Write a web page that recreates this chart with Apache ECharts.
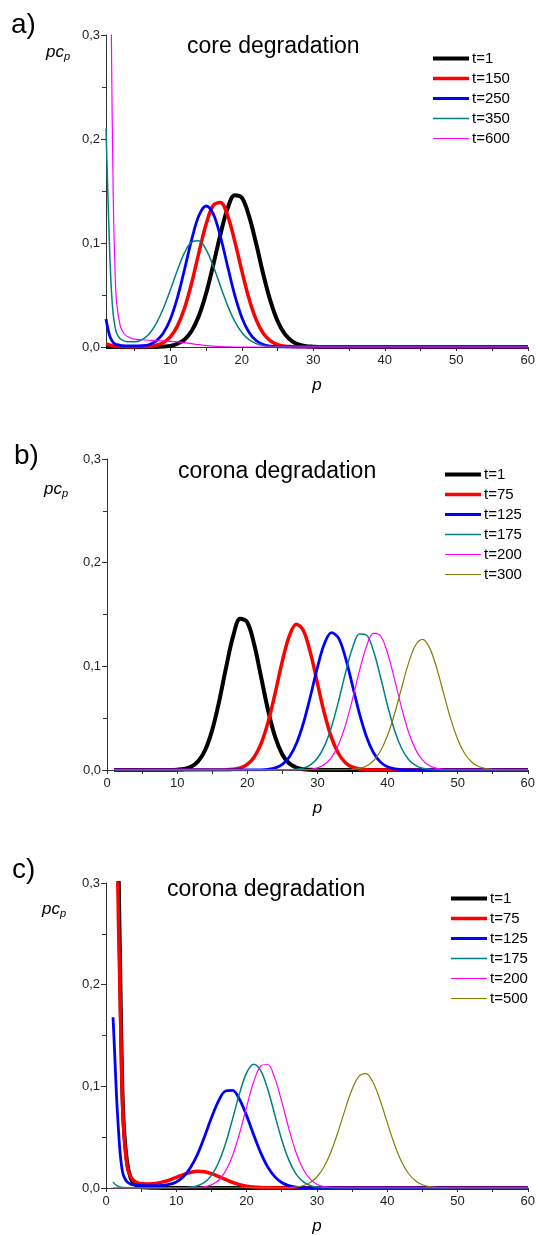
<!DOCTYPE html>
<html>
<head>
<meta charset="utf-8">
<script src="https://cdn.jsdelivr.net/npm/echarts@6/dist/echarts.min.js"></script>
<style>
  html, body { margin: 0; padding: 0; background: #fff; }
  #chart { width: 538px; height: 1236px; }
</style>
</head>
<body>
<div id="chart"></div>
<script>
// fine p grid used for the steep start of some curves
const pHead = [1, 1.25, 1.5, 1.75, 2, 2.25, 2.5, 3, 3.5, 4, 4.5];

// a) core degradation
const aNames = ['t=1', 't=150', 't=250', 't=350', 't=600'];
const aT1Body = [0.0001, 0.0004, 0.0011, 0.0031, 0.0073, 0.0157, 0.030, 0.0514, 0.0788, 0.108, 0.133, 0.146, 0.1436, 0.126, 0.0995, 0.070, 0.0443, 0.025, 0.0126, 0.0057, 0.0023, 0.0008, 0.0003, 0]; // p=8..
const aT150Head = [0.003, 0.0025, 0.002, 0.0015, 0.001, 0.0008, 0.0006, 0.0003, 0.0002, 0.0001, 0.0001];
const aT150Body = [0, 0.0002, 0.0005, 0.0016, 0.0041, 0.0097, 0.0203, 0.0377, 0.062, 0.0908, 0.118, 0.136, 0.139, 0.1266, 0.102, 0.0733, 0.0466, 0.0264, 0.0132, 0.0059, 0.0023, 0.0008, 0.0003, 0]; // p=5..
const aT250Head = [0.027, 0.018, 0.011, 0.007, 0.0045, 0.003, 0.0022, 0.0015, 0.0012, 0.001, 0.001];
const aT250Body = [0.001, 0.0012, 0.0022, 0.0057, 0.0132, 0.0267, 0.0477, 0.075, 0.1037, 0.1264, 0.1356, 0.128, 0.1064, 0.0779, 0.0501, 0.0284, 0.0142, 0.0062, 0.0024, 0.0008, 0.0002, 0]; // p=5..
const aT350Head = [0.21, 0.15, 0.095, 0.055, 0.032, 0.02, 0.013, 0.008, 0.006, 0.005, 0.005];
const aT350Body = [0.005, 0.007, 0.0123, 0.0223, 0.0367, 0.0547, 0.074, 0.0909, 0.101, 0.1022, 0.0936, 0.0778, 0.0586, 0.040, 0.0248, 0.0139, 0.0071, 0.0033, 0.0014, 0.0005, 0.0002, 0]; // p=5..
const aT600Head = [1.5, 0.9, 0.52, 0.3, 0.15, 0.075, 0.042, 0.02, 0.013, 0.01, 0.0085];
const aT600Body = [0.0075, 0.007, 0.0065, 0.006, 0.0058, 0.0055, 0.005, 0.0042, 0.0032, 0.0022, 0.0014, 0.0008, 0.0004, 0.0002, 0]; // p=5..

// b) corona degradation
const bNames = ['t=1', 't=75', 't=125', 't=175', 't=200', 't=300'];
const bT1 = [0.0001, 0.0003, 0.001, 0.0032, 0.0084, 0.0193, 0.0385, 0.0664, 0.0995, 0.1294, 0.1458, 0.1425, 0.1208, 0.0888, 0.0567, 0.0314, 0.015, 0.0062, 0.0023, 0.0007, 0.0002, 0]; // p=9..
const bT75 = [0.0002, 0.0007, 0.002, 0.0054, 0.0126, 0.026, 0.0469, 0.0748, 0.1049, 0.1294, 0.1406, 0.1345, 0.1132, 0.0839, 0.0547, 0.0314, 0.0159, 0.0071, 0.0028, 0.001, 0.0003, 0]; // p=17..
const bT125 = [0.0002, 0.0007, 0.0021, 0.0055, 0.0126, 0.0253, 0.0451, 0.0709, 0.0988, 0.1217, 0.1325, 0.1275, 0.1085, 0.0817, 0.0543, 0.032, 0.0166, 0.0076, 0.0031, 0.0011, 0.0004, 0]; // p=22..
const bT175 = [0.0002, 0.0007, 0.0019, 0.005, 0.0114, 0.023, 0.0413, 0.066, 0.0935, 0.1177, 0.1313, 0.1302, 0.1147, 0.0897, 0.0623, 0.0384, 0.021, 0.0102, 0.0044, 0.0017, 0.0006, 0.0002, 0]; // p=26..
const bT200 = [0.0002, 0.0007, 0.0021, 0.0054, 0.012, 0.0243, 0.0431, 0.0682, 0.0957, 0.1192, 0.1318, 0.1295, 0.1129, 0.0875, 0.0602, 0.0367, 0.0199, 0.0096, 0.0041, 0.0016, 0.0005, 0.0002, 0]; // p=28..
const bT300 = [0.0002, 0.0005, 0.0015, 0.0039, 0.0089, 0.0183, 0.0332, 0.0541, 0.079, 0.1031, 0.1204, 0.126, 0.1178, 0.0986, 0.0739, 0.0495, 0.0297, 0.0159, 0.0077, 0.0033, 0.0013, 0.0005, 0.0002, 0]; // p=34..

// c) corona degradation
const cNames = ['t=1', 't=75', 't=125', 't=175', 't=200', 't=500'];
const cT1Head = [1.0, 0.7, 0.48, 0.33, 0.22, 0.12, 0.065, 0.025, 0.01, 0.004, 0.002];
const cT1Body = [0.001, 0.0005, 0.0002, 0]; // p=5..
const cT75Head = [0.9, 0.6, 0.4, 0.27, 0.19, 0.11, 0.06, 0.022, 0.011, 0.007, 0.005];
const cT75Body = [0.0041, 0.004, 0.0045, 0.0058, 0.0078, 0.0104, 0.0132, 0.0153, 0.0164, 0.016, 0.0142, 0.0114, 0.0084, 0.0055, 0.0033, 0.0018, 0.0009, 0.0004, 0.0002, 0.0001, 0]; // p=5..
const cT125Head = [0.168, 0.13, 0.09, 0.06, 0.035, 0.02, 0.012, 0.006, 0.004, 0.003, 0.0028];
const cT125Body = [0.0025, 0.0024, 0.0023, 0.0025, 0.0035, 0.006, 0.011, 0.02, 0.0329, 0.0502, 0.069, 0.0855, 0.0954, 0.096, 0.0871, 0.0712, 0.0524, 0.0348, 0.0208, 0.0112, 0.0054, 0.0024, 0.0009, 0.0003, 0.0001, 0]; // p=5..
const cT175Head = [0.006, 0.004, 0.0025, 0.0015, 0.001, 0.0006, 0.0004, 0.0002, 0.0001, 0, 0];
const cT175Body = [0.0001, 0.0002, 0.0008, 0.0022, 0.0055, 0.0124, 0.0248, 0.0435, 0.0677, 0.0931, 0.1132, 0.1218, 0.1157, 0.0973, 0.0723, 0.0475, 0.0277, 0.0142, 0.0065, 0.0026, 0.0009, 0.0003, 0.0001, 0]; // p=10..
const cT200Body = [0.0001, 0.0003, 0.0011, 0.0031, 0.0076, 0.0166, 0.0318, 0.0537, 0.0798, 0.1042, 0.1199, 0.1215, 0.1083, 0.085, 0.0587, 0.0357, 0.0191, 0.009, 0.0037, 0.0014, 0.0005, 0.0001, 0]; // p=12..
const cT500Body = [0.0003, 0.0008, 0.0022, 0.0051, 0.0108, 0.0206, 0.0354, 0.055, 0.0769, 0.0969, 0.11, 0.1125, 0.1038, 0.0863, 0.0646, 0.0436, 0.0265, 0.0145, 0.0072, 0.0032, 0.0013, 0.0005, 0.0002, 0]; // p=26..

const colors = ['#000000', '#ff0000', '#0000ff', '#008080', '#ff00ff', '#808000'];
const widths = [4, 3.5, 2.8, 1.5, 1.2, 1.2];
const FONT = '"Liberation Sans", Arial, sans-serif';

// head values on pHead, then body values on integer p from start, then zero out to p=60
function buildData(head, start, body) {
    const d = [];
    if (head) {
        head.forEach((v, i) => d.push([pHead[i], v]));
    } else {
        d.push([1, 0]);
    }
    body.forEach((v, i) => d.push([start + i, v]));
    d.push([60, 0]);
    return d;
}

function makeSeries(name, idx, grid, data) {
    return {
        name: name,
        type: 'line',
        xAxisIndex: grid,
        yAxisIndex: grid,
        data: data,
        symbol: 'none',
        smooth: 0.35,
        clip: true,
        lineStyle: { color: colors[idx], width: widths[idx] },
        itemStyle: { color: colors[idx] },
        emphasis: { disabled: true }
    };
}

const series = [
    makeSeries(aNames[0], 0, 0, buildData(null, 8, aT1Body)),
    makeSeries(aNames[1], 1, 0, buildData(aT150Head, 5, aT150Body)),
    makeSeries(aNames[2], 2, 0, buildData(aT250Head, 5, aT250Body)),
    makeSeries(aNames[3], 3, 0, buildData(aT350Head, 5, aT350Body)),
    makeSeries(aNames[4], 4, 0, buildData(aT600Head, 5, aT600Body)),

    makeSeries(bNames[0], 0, 1, buildData(null, 9, bT1)),
    makeSeries(bNames[1], 1, 1, buildData(null, 17, bT75)),
    makeSeries(bNames[2], 2, 1, buildData(null, 22, bT125)),
    makeSeries(bNames[3], 3, 1, buildData(null, 26, bT175)),
    makeSeries(bNames[4], 4, 1, buildData(null, 28, bT200)),
    makeSeries(bNames[5], 5, 1, buildData(null, 34, bT300)),

    makeSeries(cNames[0], 0, 2, buildData(cT1Head, 5, cT1Body)),
    makeSeries(cNames[1], 1, 2, buildData(cT75Head, 5, cT75Body)),
    makeSeries(cNames[2], 2, 2, buildData(cT125Head, 5, cT125Body)),
    makeSeries(cNames[3], 3, 2, buildData(cT175Head, 10, cT175Body)),
    makeSeries(cNames[4], 4, 2, buildData(null, 12, cT200Body)),
    makeSeries(cNames[5], 5, 2, buildData(null, 26, cT500Body))
];

const axisColor = '#333';
const labelStyle = { color: '#222', fontSize: 13, fontFamily: FONT };

function yAxis(grid) {
    return {
        type: 'value', gridIndex: grid, min: 0, max: 0.3, interval: 0.1,
        axisLine: { show: true, lineStyle: { color: axisColor, width: 1 } },
        axisTick: { show: true, length: 5, lineStyle: { color: axisColor } },
        minorTick: { show: true, splitNumber: 2, length: 4, lineStyle: { color: axisColor } },
        splitLine: { show: false },
        axisLabel: Object.assign({ margin: 6, formatter: v => v.toFixed(1).replace('.', ',') }, labelStyle)
    };
}

function xAxis(grid, min) {
    const ax = {
        type: 'value', gridIndex: grid, min: min, max: 60,
        name: 'p', nameLocation: 'middle', nameGap: 30,
        nameTextStyle: { fontSize: 17, fontStyle: 'italic', fontFamily: FONT, color: '#000' },
        axisLine: { show: true, onZero: false, lineStyle: { color: axisColor, width: 1 } },
        axisTick: { show: true, length: 4, lineStyle: { color: axisColor } },
        splitLine: { show: false },
        axisLabel: Object.assign({ margin: 7 }, labelStyle)
    };
    if (min === 0) {
        ax.interval = 10;
        ax.minorTick = { show: true, splitNumber: 2, length: 4, lineStyle: { color: axisColor } };
    } else {
        ax.axisTick.customValues = [5, 10, 15, 20, 25, 30, 35, 40, 45, 50, 55, 60];
        ax.axisLabel.customValues = [10, 20, 30, 40, 50, 60];
    }
    return ax;
}

// legend items carry the same line width as their curve
function legend(names, left, top) {
    return {
        data: names.map((n, i) => ({ name: n, lineStyle: { width: widths[i], color: colors[i] } })),
        orient: 'vertical', left: left, top: top,
        itemWidth: 36, itemHeight: 14, itemGap: 5, selectedMode: false,
        itemStyle: { opacity: 0 },
        textStyle: { fontSize: 15, fontFamily: FONT, color: '#000', lineHeight: 14, padding: [0, 0, 0, -2] }
    };
}

function label(text, x, y, size) {
    return { type: 'text', x: x, y: y, style: { text: text, font: size + 'px ' + FONT, fill: '#000', verticalAlign: 'middle' } };
}

function ylabel(x, y) {
    return {
        type: 'text', x: x, y: y,
        style: {
            text: '{m|pc}{s|p}', verticalAlign: 'middle',
            rich: {
                m: { font: 'italic 17px ' + FONT, fill: '#000' },
                s: { font: 'italic 11px ' + FONT, fill: '#000', padding: [9, 0, 0, 0] }
            }
        }
    };
}

var myChart = echarts.init(document.getElementById('chart'), null, { renderer: 'canvas' });

var option = {
    backgroundColor: '#fff',
    animation: false,
    grid: [
        { left: 106, top: 35, width: 425, height: 312 },
        { left: 107, top: 459, width: 425, height: 311 },
        { left: 106, top: 883, width: 424, height: 310 }
    ],
    xAxis: [xAxis(0, 1), xAxis(1, 0), xAxis(2, 0)],
    yAxis: [yAxis(0), yAxis(1), yAxis(2)],
    legend: [
        legend(aNames, 426, 46),
        legend(bNames, 438, 462),
        legend(cNames, 444, 886)
    ],
    graphic: [
        label('a)', 11, 25, 28),
        label('b)', 14, 456, 28),
        label('c)', 12, 870, 28),
        label('core degradation', 187, 47, 23),
        label('corona degradation', 178, 472, 23),
        label('corona degradation', 167, 890, 23),
        ylabel(46, 52),
        ylabel(44, 489),
        ylabel(42, 909)
    ],
    series: series
};

myChart.setOption(option);
</script>
</body>
</html>
